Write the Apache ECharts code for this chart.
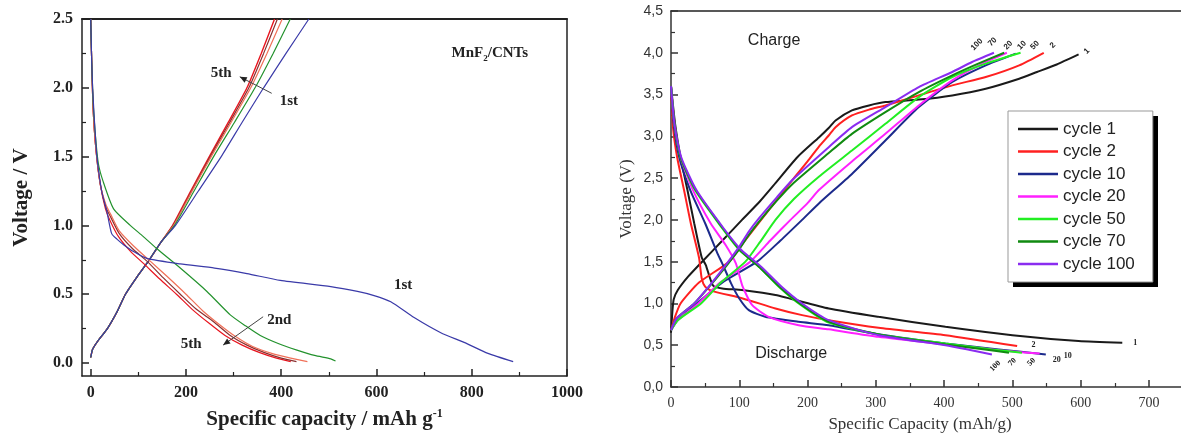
<!DOCTYPE html>
<html><head><meta charset="utf-8">
<script src="https://cdn.jsdelivr.net/npm/echarts@6/dist/echarts.min.js"></script>
<style>html,body{margin:0;padding:0;background:#fff}#c{width:1181px;height:435px}</style>
</head><body><div id="c"></div>
<script>
// ---------- Left panel (MnF2/CNTs) : [capacity mAh/g, voltage V] ----------
const L_xTicks = [0, 200, 400, 600, 800, 1000];
const L_xMinor = [100, 300, 500, 700, 900];
const L_yTicks = [0, 0.5, 1.0, 1.5, 2.0, 2.5];
const L_yMinor = [0.25, 0.75, 1.25, 1.75, 2.25];

const L_dis1 = [[0,2.5],[2,2.2],[4,2.0],[8,1.75],[13,1.5],[23,1.25],[34,1.1],[44,0.94],[55,0.9],[69,0.86],[90,0.81],[118,0.76],[188,0.72],[260,0.69],[328,0.65],[398,0.6],[504,0.555],[560,0.52],[595,0.49],[630,0.445],[679,0.33],[735,0.22],[784,0.15],[834,0.07],[887,0.01]];
const L_dis2 = [[0,2.5],[2,2.2],[5,1.9],[10,1.65],[16,1.45],[26,1.32],[48,1.12],[83,1.0],[110,0.92],[139,0.83],[188,0.69],[244,0.52],[293,0.35],[325,0.27],[356,0.2],[395,0.14],[433,0.094],[470,0.055],[504,0.03],[514,0.015]];
const L_dis3 = [[0,2.5],[2,2.2],[5,1.85],[11,1.55],[20,1.3],[32,1.15],[42,1.08],[60,0.96],[90,0.85],[125,0.74],[160,0.63],[200,0.5],[235,0.38],[270,0.28],[305,0.19],[340,0.12],[380,0.07],[420,0.035],[455,0.01]];
const L_dis4 = [[0,2.5],[2,2.2],[5,1.85],[11,1.55],[20,1.3],[32,1.13],[42,1.06],[60,0.94],[88,0.83],[118,0.74],[152,0.62],[188,0.5],[222,0.39],[258,0.3],[293,0.2],[328,0.13],[365,0.075],[400,0.035],[432,0.01]];
const L_dis5 = [[0,2.5],[2,2.2],[5,1.85],[11,1.55],[20,1.3],[31,1.12],[40,1.04],[58,0.92],[84,0.81],[112,0.72],[145,0.61],[180,0.5],[213,0.39],[248,0.29],[282,0.2],[318,0.13],[355,0.075],[390,0.035],[420,0.01]];

const L_chg1 = [[0,0.04],[4,0.1],[15,0.16],[35,0.25],[55,0.37],[73,0.5],[98,0.63],[123,0.75],[148,0.88],[178,1.0],[226,1.25],[274,1.5],[318,1.75],[363,2.0],[410,2.25],[458,2.5]];
const L_chg2 = [[0,0.04],[4,0.1],[15,0.16],[35,0.25],[55,0.37],[73,0.5],[98,0.63],[123,0.75],[148,0.88],[176,1.0],[217,1.25],[258,1.5],[302,1.75],[345,2.0],[383,2.25],[419,2.5]];
const L_chg3 = [[0,0.04],[4,0.1],[15,0.16],[35,0.25],[55,0.37],[73,0.5],[98,0.63],[123,0.75],[148,0.88],[174,1.0],[213,1.25],[253,1.5],[295,1.75],[336,2.0],[370,2.25],[402,2.5]];
const L_chg4 = [[0,0.04],[4,0.1],[15,0.16],[35,0.25],[55,0.37],[73,0.5],[98,0.63],[123,0.75],[148,0.88],[173,1.0],[212,1.25],[251,1.5],[292,1.75],[332,2.0],[363,2.25],[392,2.5]];
const L_chg5 = [[0,0.04],[4,0.1],[15,0.16],[35,0.25],[55,0.37],[73,0.5],[98,0.63],[123,0.75],[148,0.88],[172,1.0],[210,1.25],[249,1.5],[289,1.75],[328,2.0],[358,2.25],[386,2.5]];

// ---------- Right panel : [capacity mAh/g, voltage V] ----------
const R_xTicks = [0, 100, 200, 300, 400, 500, 600, 700];
const R_xMinor = [50, 150, 250, 350, 450, 550, 650];
const R_yTicks = [0, 0.5, 1.0, 1.5, 2.0, 2.5, 3.0, 3.5, 4.0, 4.5];
const R_yMinor = [0.25, 0.75, 1.25, 1.75, 2.25, 2.75, 3.25, 3.75, 4.25];
const R_cycles = ['cycle 1', 'cycle 2', 'cycle 10', 'cycle 20', 'cycle 50', 'cycle 70', 'cycle 100'];

const R_chg1 = [[0,0.65],[2,0.9],[4,1.05],[10,1.16],[25,1.32],[48,1.52],[75,1.75],[104,2.0],[130,2.22],[153,2.44],[185,2.75],[217,2.99],[231,3.1],[241,3.19],[265,3.31],[290,3.37],[314,3.41],[363,3.44],[412,3.49],[461,3.57],[510,3.69],[536,3.77],[565,3.86],[597,3.98]];
const R_dis1 = [[0,3.6],[6,3.15],[14,2.75],[24,2.36],[34,1.96],[45,1.55],[51,1.46],[56,1.33],[62,1.21],[75,1.18],[104,1.16],[153,1.1],[231,0.94],[304,0.84],[402,0.72],[500,0.62],[597,0.55],[661,0.53]];
const R_chg2 = [[0,0.68],[5,0.82],[14,1.0],[41,1.25],[85,1.5],[108,1.75],[132,2.0],[155,2.24],[178,2.48],[200,2.7],[217,2.88],[231,3.01],[241,3.11],[265,3.25],[290,3.32],[314,3.37],[363,3.49],[412,3.61],[461,3.71],[510,3.85],[546,4.0]];
const R_dis2 = [[0,3.6],[3,3.1],[9,2.75],[19,2.36],[29,1.96],[41,1.55],[45,1.3],[50,1.2],[60,1.15],[105,1.06],[153,0.94],[192,0.86],[231,0.8],[304,0.71],[402,0.62],[507,0.49]];
const R_chg10 = [[0,0.68],[10,0.8],[38,1.0],[75,1.25],[126,1.5],[160,1.75],[192,2.0],[217,2.2],[265,2.55],[314,2.95],[363,3.35],[412,3.65],[461,3.85],[505,3.99]];
const R_dis10 = [[0,3.6],[4,3.15],[12,2.75],[28,2.36],[50,1.96],[68,1.6],[75,1.48],[88,1.24],[100,1.06],[114,0.92],[138,0.84],[187,0.78],[231,0.74],[304,0.63],[402,0.52],[480,0.45],[549,0.39]];
const R_chg20 = [[0,0.68],[10,0.8],[40,1.0],[72,1.25],[116,1.5],[145,1.75],[175,2.0],[200,2.2],[217,2.36],[265,2.7],[314,3.03],[363,3.37],[412,3.67],[461,3.89],[492,4.0]];
const R_dis20 = [[0,3.6],[5,3.15],[14,2.75],[32,2.36],[58,1.96],[80,1.7],[95,1.48],[105,1.2],[119,0.98],[143,0.84],[187,0.74],[231,0.69],[304,0.6],[402,0.51],[480,0.44],[540,0.4]];
const R_chg50 = [[0,0.68],[10,0.8],[44,1.0],[73,1.25],[109,1.5],[130,1.73],[153,2.0],[180,2.25],[217,2.52],[265,2.83],[314,3.15],[363,3.47],[412,3.71],[461,3.87],[512,4.0]];
const R_dis50 = [[0,3.6],[5,3.15],[14,2.75],[35,2.36],[75,1.9],[100,1.64],[129,1.44],[158,1.2],[187,1.0],[231,0.77],[304,0.63],[402,0.52],[470,0.45],[514,0.41]];
const R_chg70 = [[0,0.68],[8,0.82],[34,1.0],[60,1.24],[82,1.46],[100,1.65],[114,1.82],[129,1.98],[155,2.23],[178,2.43],[231,2.8],[265,3.03],[314,3.29],[363,3.53],[412,3.73],[450,3.87],[488,4.0]];
const R_dis70 = [[0,3.6],[5,3.15],[14,2.75],[36,2.36],[76,1.9],[101,1.64],[130,1.43],[160,1.19],[190,0.99],[231,0.78],[304,0.63],[402,0.51],[460,0.45],[495,0.41]];
const R_chg100 = [[0,0.68],[8,0.82],[34,1.0],[60,1.25],[82,1.48],[100,1.68],[114,1.86],[129,2.02],[155,2.27],[178,2.48],[231,2.87],[265,3.11],[314,3.35],[363,3.59],[412,3.77],[441,3.89],[473,4.0]];
const R_dis100 = [[0,3.6],[5,3.15],[15,2.75],[37,2.36],[77,1.9],[103,1.64],[132,1.44],[162,1.2],[192,1.0],[231,0.8],[304,0.62],[402,0.5],[440,0.44],[470,0.39]];

// ---------- styling ----------
const SERIF = '"Liberation Serif","Times New Roman",serif';
const SANS = '"Liberation Sans",Arial,sans-serif';
const L_col = {c1:'#3a3aa8', c2:'#23922d', c3:'#f07058', c4:'#8a3030', c5:'#e8141e'};
const R_col = ['#1a1a1a', '#ff2020', '#1c2a8c', '#ff20ff', '#22ee22', '#108a10', '#8a2cf0'];

function ln(name, data, color, w, xi, yi) {
  return {type:'line', name, data, xAxisIndex:xi, yAxisIndex:yi, symbol:'none', showSymbol:false,
    smooth:0.2, lineStyle:{color, width:w}, itemStyle:{color}, silent:true, animation:false};
}
function lineOnly(grid, pos, w) {
  return {gridIndex:grid, type:'value', position:pos, axisLine:{onZero:false, lineStyle:{color:'#222', width:w}},
    axisTick:{show:false}, axisLabel:{show:false}, splitLine:{show:false}};
}
function minorAxis(grid, pos, min, max, vals, color) {
  return {gridIndex:grid, type:'value', min, max, position:pos, axisLine:{show:false, onZero:false},
    axisTick:{inside:true, length:4, customValues:vals, lineStyle:{color, width:1.2}},
    axisLabel:{show:false}, splitLine:{show:false}};
}

const chart = echarts.init(document.getElementById('c'));
const series = [
  ln('L5c', L_chg5, L_col.c5, 1.4, 0, 0), ln('L4c', L_chg4, L_col.c4, 1.2, 0, 0), ln('L3c', L_chg3, L_col.c3, 1.2, 0, 0),
  ln('L2c', L_chg2, L_col.c2, 1.2, 0, 0), ln('L1c', L_chg1, L_col.c1, 1.2, 0, 0),
  ln('L5d', L_dis5, L_col.c5, 1.2, 0, 0), ln('L4d', L_dis4, L_col.c4, 1.2, 0, 0), ln('L3d', L_dis3, L_col.c3, 1.2, 0, 0),
  ln('L2d', L_dis2, L_col.c2, 1.2, 0, 0), ln('L1d', L_dis1, L_col.c1, 1.2, 0, 0)
];
const R_chg = [R_chg1, R_chg2, R_chg10, R_chg20, R_chg50, R_chg70, R_chg100];
const R_dis = [R_dis1, R_dis2, R_dis10, R_dis20, R_dis50, R_dis70, R_dis100];
R_cycles.forEach((n, i) => {
  series.push(ln(n, R_chg[i], R_col[i], 2, 3, 3));
  series.push(ln(n, R_dis[i], R_col[i], 2, 3, 3));
});

chart.setOption({
  backgroundColor:'#fff',
  animation:false,
  grid:[{left:82, top:19, width:485, height:357, outerBoundsMode:'none', containLabel:false},
        {left:671, top:11, width:510, height:376, outerBoundsMode:'none', containLabel:false}],
  xAxis:[
    {gridIndex:0, type:'value', min:-18.3, max:1000, position:'bottom', axisLine:{onZero:false, lineStyle:{color:'#222', width:1.5}},
      axisTick:{inside:true, length:7, customValues:L_xTicks, lineStyle:{color:'#222', width:1.5}},
      axisLabel:{customValues:L_xTicks, formatter:v => String(v), fontFamily:SERIF, fontWeight:'bold', fontSize:16, color:'#222', margin:9},
      splitLine:{show:false},
      name:'{a|Specific capacity / mAh g}{s|-1}', nameLocation:'middle', nameGap:32,
      nameTextStyle:{rich:{a:{fontFamily:SERIF, fontWeight:'bold', fontSize:21, color:'#222', lineHeight:24},
        s:{fontFamily:SERIF, fontWeight:'bold', fontSize:12, color:'#222', verticalAlign:'top', lineHeight:24}}}},
    minorAxis(0, 'bottom', -18.3, 1000, L_xMinor, '#222'),
    lineOnly(0, 'top', 2),
    {gridIndex:1, type:'value', min:0, max:747, position:'bottom', axisLine:{onZero:false, lineStyle:{color:'#333', width:1.5}},
      axisTick:{inside:true, length:7, customValues:R_xTicks, lineStyle:{color:'#333', width:1.5}},
      axisLabel:{customValues:R_xTicks, formatter:v => String(v), fontFamily:SERIF, fontSize:14, color:'#333', margin:9},
      splitLine:{show:false},
      name:'Specific Capacity (mAh/g)', nameLocation:'middle', nameGap:29,
      nameTextStyle:{fontFamily:SERIF, fontSize:17, color:'#333', padding:[0,12,0,0]}},
    minorAxis(1, 'bottom', 0, 747, R_xMinor, '#333'),
    lineOnly(1, 'top', 1.5)
  ],
  yAxis:[
    {gridIndex:0, type:'value', min:-0.0945, max:2.5, position:'left', axisLine:{onZero:false, lineStyle:{color:'#222', width:1.5}},
      axisTick:{inside:true, length:7, customValues:L_yTicks, lineStyle:{color:'#222', width:1.5}},
      axisLabel:{customValues:L_yTicks, formatter:v => v.toFixed(1), fontFamily:SERIF, fontWeight:'bold', fontSize:16, color:'#222', margin:9},
      splitLine:{show:false},
      name:'Voltage / V', nameLocation:'middle', nameGap:50, nameRotate:90,
      nameTextStyle:{fontFamily:SERIF, fontWeight:'bold', fontSize:21, color:'#222'}},
    minorAxis(0, 'left', -0.0945, 2.5, L_yMinor, '#222'),
    lineOnly(0, 'right', 1.5),
    {gridIndex:1, type:'value', min:0, max:4.5, position:'left', axisLine:{onZero:false, lineStyle:{color:'#333', width:1.5}},
      axisTick:{inside:true, length:7, customValues:R_yTicks, lineStyle:{color:'#333', width:1.5}},
      axisLabel:{customValues:R_yTicks, formatter:v => v.toFixed(1).replace('.', ','), fontFamily:SANS, fontSize:14, color:'#333', margin:8},
      splitLine:{show:false},
      name:'Voltage (V)', nameLocation:'middle', nameGap:36, nameRotate:90,
      nameTextStyle:{fontFamily:SERIF, fontSize:17, color:'#333'}},
    minorAxis(1, 'left', 0, 4.5, R_yMinor, '#333')
  ],
  legend:{data:R_cycles.map(n => ({name:n, icon:'rect'})), orient:'vertical', left:1008, top:111, itemWidth:40, itemHeight:2.5, itemGap:4.5,
    padding:[9,18,9,10], backgroundColor:'#fff', borderColor:'#999', borderWidth:1, z:10,
    selectedMode:false, textStyle:{fontFamily:SANS, fontSize:17, color:'#222', lineHeight:18}},
  series
});

// ---------- annotations, positioned from data coordinates ----------
const L = p => chart.convertToPixel({xAxisIndex:0, yAxisIndex:0}, p);
const R = p => chart.convertToPixel({xAxisIndex:3, yAxisIndex:3}, p);
const g = [];
// legend drop shadow (black block behind the legend box)
g.push({type:'rect', z:-1, shape:{x:1013, y:116, width:145, height:171}, style:{fill:'#000'}});
function txt(pt, text, font, opts) {
  const o = Object.assign({type:'text', x:pt[0], y:pt[1], z:100,
    style:{text, font, fill:'#222', align:'center', verticalAlign:'middle', textAlign:'center', textVerticalAlign:'middle'}}, opts || {});
  g.push(o);
}
function arrow(a, b) {
  g.push({type:'line', z:100, shape:{x1:a[0], y1:a[1], x2:b[0], y2:b[1]}, style:{stroke:'#444', lineWidth:1}});
  const dx = b[0]-a[0], dy = b[1]-a[1], len = Math.hypot(dx, dy), ux = dx/len, uy = dy/len;
  const h = 7, w = 3;
  g.push({type:'polygon', z:100, shape:{points:[[b[0], b[1]], [b[0]-ux*h-uy*w, b[1]-uy*h+ux*w], [b[0]-ux*h+uy*w, b[1]-uy*h-ux*w]]}, style:{fill:'#222'}});
}
const BS = 'bold 15px ' + SERIF;
g.push({type:'text', x:L([838,2.25])[0], y:L([838,2.25])[1], z:100,
  style:{text:'{a|MnF}{s|2}{a|/CNTs}', align:'center', verticalAlign:'middle', textAlign:'center', textVerticalAlign:'middle',
    rich:{a:{font:BS, fill:'#222', lineHeight:20}, s:{font:'bold 9px ' + SERIF, fill:'#222', verticalAlign:'bottom', lineHeight:20}}}});
txt(L([274,2.11]), '5th', BS);
txt(L([416,1.9]), '1st', BS);
txt(L([656,0.567]), '1st', BS);
txt(L([396,0.31]), '2nd', BS);
txt(L([211,0.135]), '5th', BS);
arrow(L([380,1.96]), L([313,2.08]));
arrow(L([362,0.336]), L([278,0.13]));

txt(R([151,4.14]), 'Charge', '16px ' + SANS);
txt(R([176,0.395]), 'Discharge', '16px ' + SANS);
const topNums = [['100',448,4.10],['70',471,4.13],['20',494,4.09],['10',514,4.09],['50',533,4.09],['2',559,4.09],['1',609,4.02]];
topNums.forEach(t => txt(R([t[1], t[2]]), t[0], 'bold 8px ' + SANS, {rotation:Math.PI/4}));
const botNums = [['1',680,0.526,0],['2',531,0.5,0],['10',581,0.37,0],['20',565,0.32,0],['50',528,0.3,1],['70',500,0.3,1],['100',475,0.25,1]];
botNums.forEach(t => txt(R([t[1], t[2]]), t[0], 'bold 8px ' + SERIF, t[3] ? {rotation:Math.PI/4} : {}));

chart.setOption({graphic:g});
</script>
</body></html>
